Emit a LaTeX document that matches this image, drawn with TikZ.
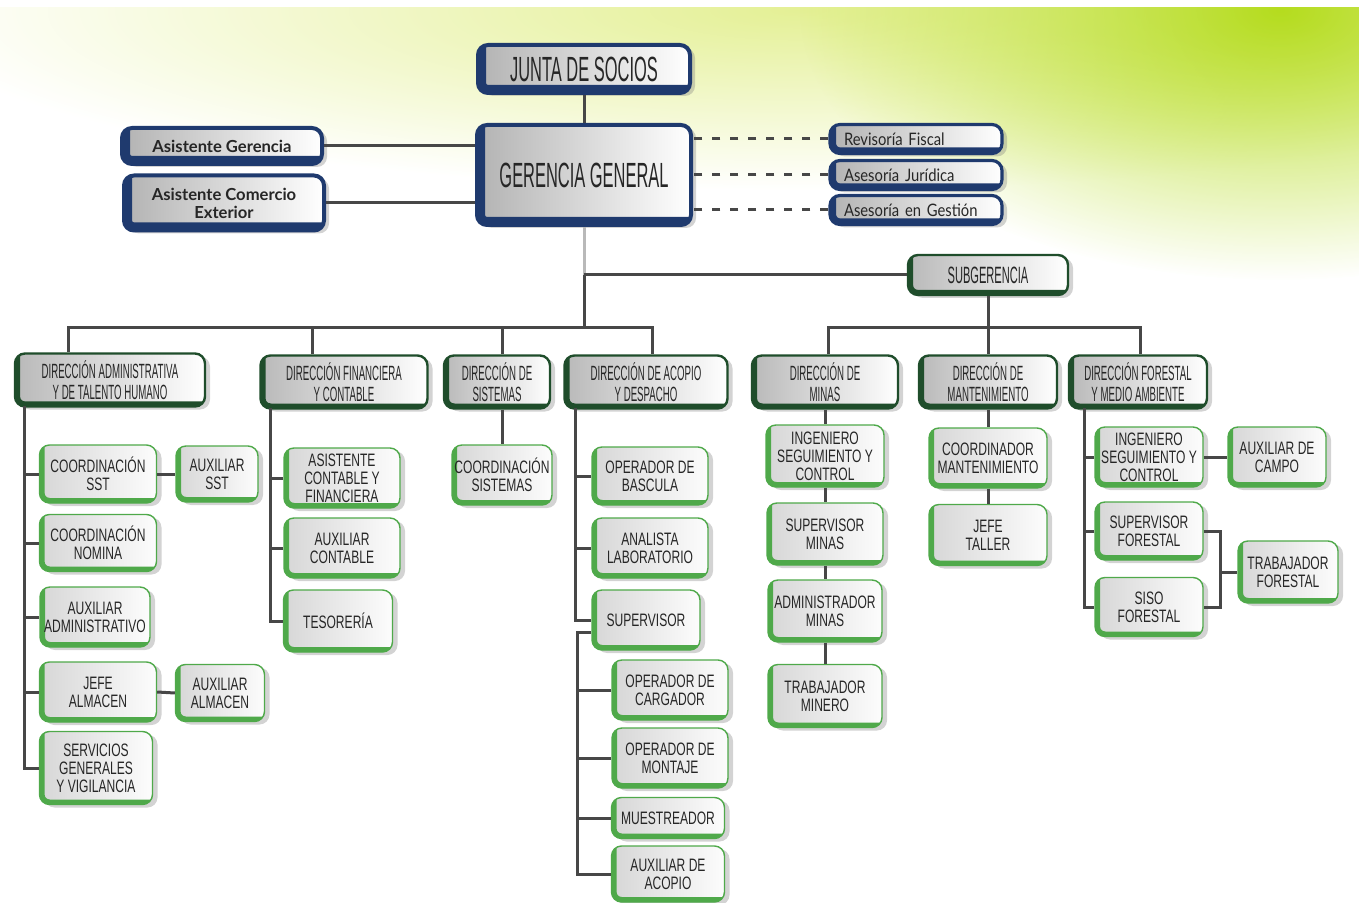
\documentclass[tikz,border=0pt]{standalone}
\usepackage{fontspec}
\setmainfont{Liberation Sans}
\newfontfamily\condfont[FakeStretch=0.47]{Liberation Sans}
\newfontfamily\unitfont[FakeStretch=0.67]{Liberation Sans}
\newfontfamily\asisfont{Lato}
\newfontfamily\advfont[FakeStretch=0.86, WordSpace=0.6]{Lato}
\usetikzlibrary{shadows, fadings, calc}
\definecolor{blueedge}{HTML}{1F3A6E}
\definecolor{dgreen}{HTML}{1F4D2B}
\definecolor{ugreen}{HTML}{4FA94A}
\definecolor{linecol}{HTML}{474747}
\definecolor{textcol}{HTML}{262626}
\definecolor{glowyellow}{HTML}{E4F095}
\definecolor{glowlime}{HTML}{B5DC1E}
\tikzfading[name=glowfade, inner color=transparent!0, outer color=transparent!100]

\begin{document}
\begin{tikzpicture}[x=0.5pt, y=-0.5pt,
    conn/.style={line width=1.5pt, draw=linecol},
    dashconn/.style={conn, dash pattern=on 4pt off 5pt},
    sz/.style 2 args={minimum width=#1*0.5pt, minimum height=#2*0.5pt},
    thickedge/.style 2 args={path picture={\draw[line width=#1, #2]
        (path picture bounding box.north west) |- (path picture bounding box.south east);}},
    boxbase/.style={rectangle, rounded corners=5pt, align=center, inner sep=1pt, text=textcol,
        drop shadow={shadow xshift=2.5pt, shadow yshift=-1.5pt, opacity=0.35}},
    mgmt/.style={boxbase, draw=blueedge, line width=2pt, left color=gray!60, right color=white,
        thickedge={8pt}{blueedge}, font=\condfont\fontsize{17.5}{18}\selectfont},
    adv/.style={mgmt, font=\asisfont\bfseries\fontsize{8.3}{9}\selectfont},
    advr/.style={mgmt, font=\advfont\fontsize{8.6}{9}\selectfont, align=left,
        text width=72pt, inner xsep=7pt, minimum height=14.5pt, line width=1.6pt,
        thickedge={6pt}{blueedge}},
    dirbox/.style={boxbase, draw=dgreen, line width=1.2pt, left color=gray!55, right color=white,
        thickedge={5pt}{dgreen}, font=\condfont\fontsize{10.3}{10.6}\selectfont},
    unit/.style={boxbase, draw=ugreen, line width=0.7pt, left color=gray!32, right color=gray!2,
        thickedge={5pt}{ugreen}, font=\unitfont\fontsize{9}{9}\selectfont},
  ]
  \useasboundingbox (0,0) rectangle (1359,903);
  % background glow
  \begin{scope}
    \clip (0,8) rectangle (1359,903);
    \fill[glowyellow, path fading=glowfade] (800,10) ellipse [x radius=900, y radius=180];
    \fill[glowlime, path fading=glowfade] (1280,10) ellipse [x radius=480, y radius=270];
  \end{scope}

  % top management
  \node[mgmt, sz={212}{48}] (junta) at (584,69) {JUNTA DE SOCIOS};
  \node[mgmt, sz={214}{100}] (gerencia) at (584,175) {GERENCIA GENERAL};
  \node[adv, sz={200}{36}] (asisger) at (222,146) {Asistente Gerencia};
  \node[adv, sz={200}{55}] (asiscom) at (224,203) {Asistente Comercio\\Exterior};
  \node[advr] (revisoria) at (916,139) {Revisoría Fiscal};
  \node[advr] (juridica) at (916,175) {Asesoría Jurídica};
  \node[advr] (gestion) at (916,210) {Asesoría en Gestión};
  \node[dirbox, sz={160}{40}, font=\condfont\fontsize{11.8}{12}\selectfont] (subger) at (988,275) {SUBGERENCIA};

  % direcciones
  \node[dirbox, sz={190}{53}] (dadmin) at (110,380) {DIRECCIÓN ADMINISTRATIVA\\Y DE TALENTO HUMANO};
  \node[dirbox, sz={167}{53}] (dfin) at (344,382) {DIRECCIÓN FINANCIERA\\Y CONTABLE};
  \node[dirbox, sz={106}{53}] (dsis) at (497,382) {DIRECCIÓN DE\\SISTEMAS};
  \node[dirbox, sz={163}{53}] (dacopio) at (646,382) {DIRECCIÓN DE ACOPIO\\Y DESPACHO};
  \node[dirbox, sz={146}{53}] (dminas) at (825,382) {DIRECCIÓN DE\\MINAS};
  \node[dirbox, sz={138}{53}] (dmant) at (988,382) {DIRECCIÓN DE\\MANTENIMIENTO};
  \node[dirbox, sz={138}{53}] (dforestal) at (1138,382) {DIRECCIÓN FORESTAL\\Y MEDIO AMBIENTE};

  % administrativa
  \node[unit, sz={117}{58}] (csst) at (98,474) {COORDINACIÓN\\SST};
  \node[unit, sz={82}{56}] (asst) at (217,474) {AUXILIAR\\SST};
  \node[unit, sz={117}{57}] (cnom) at (98,543) {COORDINACIÓN\\NOMINA};
  \node[unit, sz={110}{60}] (aadm) at (95,617) {AUXILIAR\\ADMINISTRATIVO};
  \node[unit, sz={117}{60}] (jalm) at (98,692) {JEFE\\ALMACEN};
  \node[unit, sz={89}{57}] (aalm) at (220,693) {AUXILIAR\\ALMACEN};
  \node[unit, sz={113}{73}] (sgen) at (96,768) {SERVICIOS\\GENERALES\\Y VIGILANCIA};
  % financiera
  \node[unit, sz={116}{60}] (acf) at (342,478) {ASISTENTE\\CONTABLE Y\\FINANCIERA};
  \node[unit, sz={116}{60}] (acont) at (342,548) {AUXILIAR\\CONTABLE};
  \node[unit, sz={109}{62}] (teso) at (338,621) {TESORERÍA};
  % sistemas
  \node[unit, sz={100}{60}] (csis) at (502,475) {COORDINACIÓN\\SISTEMAS};
  % acopio
  \node[unit, sz={116}{58}] (opbas) at (650,476) {OPERADOR DE\\BASCULA};
  \node[unit, sz={116}{60}] (analab) at (650,548) {ANALISTA\\LABORATORIO};
  \node[unit, sz={108}{60}] (superv) at (646,620) {SUPERVISOR};
  \node[unit, sz={116}{60}] (opcarg) at (670,690) {OPERADOR DE\\CARGADOR};
  \node[unit, sz={116}{60}] (opmont) at (670,758) {OPERADOR DE\\MONTAJE};
  \node[unit, sz={113}{41}] (muest) at (668,818) {MUESTREADOR};
  \node[unit, sz={113}{56}] (auxacop) at (668,874) {AUXILIAR DE\\ACOPIO};
  % minas
  \node[unit, sz={118}{62}] (ingmin) at (825,456) {INGENIERO\\SEGUIMIENTO Y\\CONTROL};
  \node[unit, sz={116}{62}] (supmin) at (825,534) {SUPERVISOR\\MINAS};
  \node[unit, sz={114}{62}] (admmin) at (825,611) {ADMINISTRADOR\\MINAS};
  \node[unit, sz={114}{63}] (trabmin) at (825,696) {TRABAJADOR\\MINERO};
  % mantenimiento
  \node[unit, sz={118}{60}] (coordmant) at (988,458) {COORDINADOR\\MANTENIMIENTO};
  \node[unit, sz={118}{61}] (jefet) at (988,535) {JEFE\\TALLER};
  % forestal
  \node[unit, sz={108}{60}] (ingfor) at (1149,457) {INGENIERO\\SEGUIMIENTO Y\\CONTROL};
  \node[unit, sz={98}{60}] (auxcampo) at (1277,457) {AUXILIAR DE\\CAMPO};
  \node[unit, sz={108}{58}] (supfor) at (1149,531) {SUPERVISOR\\FORESTAL};
  \node[unit, sz={108}{59}] (sisofor) at (1149,607) {SISO\\FORESTAL};
  \node[unit, sz={100}{62}] (trabfor) at (1288,572) {TRABAJADOR\\FORESTAL};

  % free ends of the trunk lines
  \coordinate (hub) at (gerencia.south |- subger.west);
  \coordinate (bus) at (584,328);
  \coordinate (sbus) at (988,328);
  \coordinate (aspine) at (24,406);
  \coordinate (fspine) at (270,408);
  \coordinate (cspine) at (575,408);
  \coordinate (sspine) at (577,874);
  \coordinate (rspine) at (1084,408);
  \coordinate (fjoin) at (1220,572);

  % connectors
  \draw[conn] (junta.south) -- (gerencia.north);
  \draw[conn] (asisger.east) -- (asisger.east -| gerencia.west);
  \draw[conn] (asiscom.east) -- (asiscom.east -| gerencia.west);
  \foreach \a in {revisoria,juridica,gestion}
    \draw[dashconn] (\a.west) -- (\a.west -| gerencia.east);
  \draw[conn, draw=gray!55] (gerencia.south) -- (hub);
  \draw[conn] (hub) -- (subger.west);
  \draw[conn] (hub) -- (bus);
  \draw[conn] ([xshift=-21pt]dadmin.north) |- (bus) -| ([xshift=3pt]dacopio.north);
  \draw[conn] ([xshift=-16pt]dfin.north) -- ([xshift=-16pt]dfin.north |- bus);
  \draw[conn] (csis.north |- dsis.north) -- (csis.north |- bus);
  \draw[conn] (subger.south) -- (dmant.north);
  \draw[conn] ([xshift=1.5pt]dminas.north) |- (sbus) -| ([xshift=1pt]dforestal.north);

  \draw[conn] (aspine) |- (sgen.west);
  \foreach \u in {csst,cnom,aadm,jalm}
    \draw[conn] (\u.west) -- (\u.west -| aspine);
  \draw[conn] (csst.east) -- (asst.west);
  \draw[conn] (jalm.east) -- (aalm.west);

  \draw[conn] (fspine) |- (teso.west);
  \foreach \u in {acf,acont}
    \draw[conn] (\u.west) -- (\u.west -| fspine);

  \draw[conn] (csis.north |- dsis.south) -- (csis.north);

  \draw[conn] (cspine) |- (superv.west);
  \foreach \u in {opbas,analab}
    \draw[conn] (\u.west) -- (\u.west -| cspine);
  \draw[conn] ([yshift=-6pt]superv.west) -| (sspine) -- (auxacop.west);
  \foreach \u in {opcarg,opmont,muest}
    \draw[conn] (\u.west) -- (\u.west -| sspine);

  \draw[conn] (dminas.south) -- (ingmin.north);
  \draw[conn] (ingmin.south) -- (supmin.north);
  \draw[conn] (supmin.south) -- (admmin.north);
  \draw[conn] (admmin.south) -- (trabmin.north);

  \draw[conn] (dmant.south) -- (coordmant.north);
  \draw[conn] (coordmant.south) -- (jefet.north);

  \draw[conn] (rspine) |- (sisofor.west);
  \foreach \u in {ingfor,supfor}
    \draw[conn] (\u.west) -- (\u.west -| rspine);
  \draw[conn] (ingfor.east) -- (auxcampo.west);
  \draw[conn] (supfor.east) -| (fjoin) |- (sisofor.east);
  \draw[conn] (fjoin) -- (trabfor.west);
\end{tikzpicture}
\end{document}
